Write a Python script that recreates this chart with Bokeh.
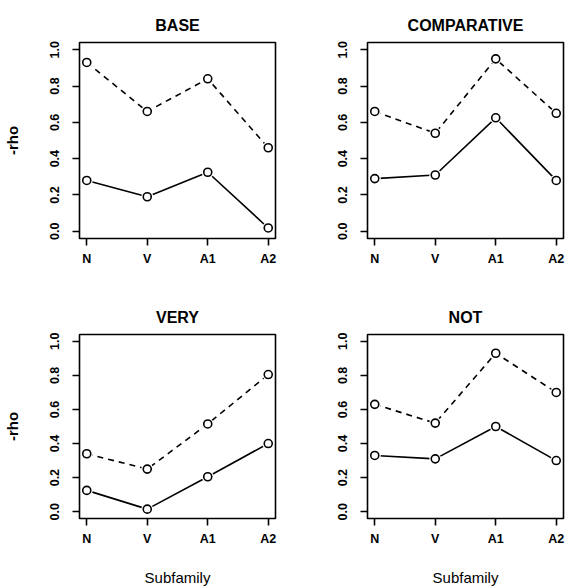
from bokeh.plotting import figure
from bokeh.layouts import gridplot
from bokeh.models import FixedTicker, ColumnDataSource
from bokeh.embed import file_html
from bokeh.resources import INLINE

categories = ["N", "V", "A1", "A2"]
y_ticks = [0.0, 0.2, 0.4, 0.6, 0.8, 1.0]
y_tick_labels = ["0.0", "0.2", "0.4", "0.6", "0.8", "1.0"]

panels = ["BASE", "COMPARATIVE", "VERY", "NOT"]
dashed_values = {
    "BASE": [0.93, 0.66, 0.84, 0.46],
    "COMPARATIVE": [0.66, 0.54, 0.95, 0.65],
    "VERY": [0.34, 0.25, 0.515, 0.805],
    "NOT": [0.63, 0.52, 0.93, 0.70],
}
solid_values = {
    "BASE": [0.28, 0.19, 0.325, 0.018],
    "COMPARATIVE": [0.29, 0.31, 0.625, 0.28],
    "VERY": [0.125, 0.015, 0.205, 0.40],
    "NOT": [0.33, 0.31, 0.50, 0.30],
}

FONT = "Liberation Sans"


def make_panel(name, col, row):
    left_col = col == 0
    bottom_row = row == 1
    bl, br = (79, 21) if col == 0 else (71, 2)
    bt, bb = (42, 58) if row == 0 else (38, 59)
    fw, fh = 196, (196 if row == 0 else 195)
    p = figure(
        width=bl + fw + br,
        height=bt + fh + bb,
        x_range=(1 - 0.12, len(categories) + 0.12),
        y_range=(-0.04, 1.04),
        output_backend="svg",
        toolbar_location=None,
        title=name,
        min_border_left=bl,
        min_border_right=br,
        min_border_top=bt,
        min_border_bottom=bb,
    )
    xs = list(range(1, len(categories) + 1))
    src = ColumnDataSource(dict(x=xs, dashed=dashed_values[name], solid=solid_values[name]))

    p.line("x", "dashed", source=src, line_color="black", line_width=1.6, line_dash="6 5")
    p.line("x", "solid", source=src, line_color="black", line_width=1.6)
    for col_name in ("dashed", "solid"):
        p.scatter("x", col_name, source=src, size=12, fill_color="white", line_color=None)
        p.scatter("x", col_name, source=src, size=8, fill_color="white",
                  line_color="black", line_width=1.6)

    p.title.align = "center"
    p.title.text_font = FONT
    p.title.text_font_size = "16px"
    p.title.text_font_style = "bold"
    p.title.text_color = "black"
    p.title.standoff = 18

    p.xgrid.visible = False
    p.ygrid.visible = False
    p.outline_line_color = "black"
    p.outline_line_width = 1.6
    p.background_fill_color = "white"
    p.border_fill_color = "white"

    xa = p.xaxis[0]
    xa.ticker = FixedTicker(ticks=xs)
    xa.major_label_overrides = {x: c for x, c in zip(xs, categories)}
    ya = p.yaxis[0]
    ya.ticker = FixedTicker(ticks=y_ticks)
    ya.major_label_overrides = {t: l for t, l in zip(y_ticks, y_tick_labels)}
    ya.major_label_orientation = "parallel"

    for ax in (xa, ya):
        ax.axis_line_color = None
        ax.minor_tick_line_color = None
        ax.major_tick_in = 0
        ax.major_tick_out = 7
        ax.major_tick_line_color = "black"
        ax.major_tick_line_width = 1.6
        ax.major_label_text_font = FONT
        ax.major_label_text_font_size = "12.5px"
        ax.major_label_text_font_style = "bold"
        ax.major_label_text_color = "black"
        ax.axis_label_text_font = FONT
        ax.axis_label_text_color = "black"
    xa.major_label_standoff = 6
    ya.major_label_standoff = 13

    if left_col:
        ya.axis_label = "-rho"
        ya.axis_label_text_font_size = "15px"
        ya.axis_label_text_font_style = "bold"
        ya.axis_label_standoff = 27
    if bottom_row:
        xa.axis_label = "Subfamily"
        xa.axis_label_text_font_size = "15px"
        xa.axis_label_text_font_style = "normal"
        xa.axis_label_standoff = 20
    return p


figs = [make_panel(n, i % 2, i // 2) for i, n in enumerate(panels)]
grid = gridplot([[figs[0], figs[1]], [figs[2], figs[3]]], toolbar_location=None)

open("out.html", "w").write(file_html(grid, INLINE))
